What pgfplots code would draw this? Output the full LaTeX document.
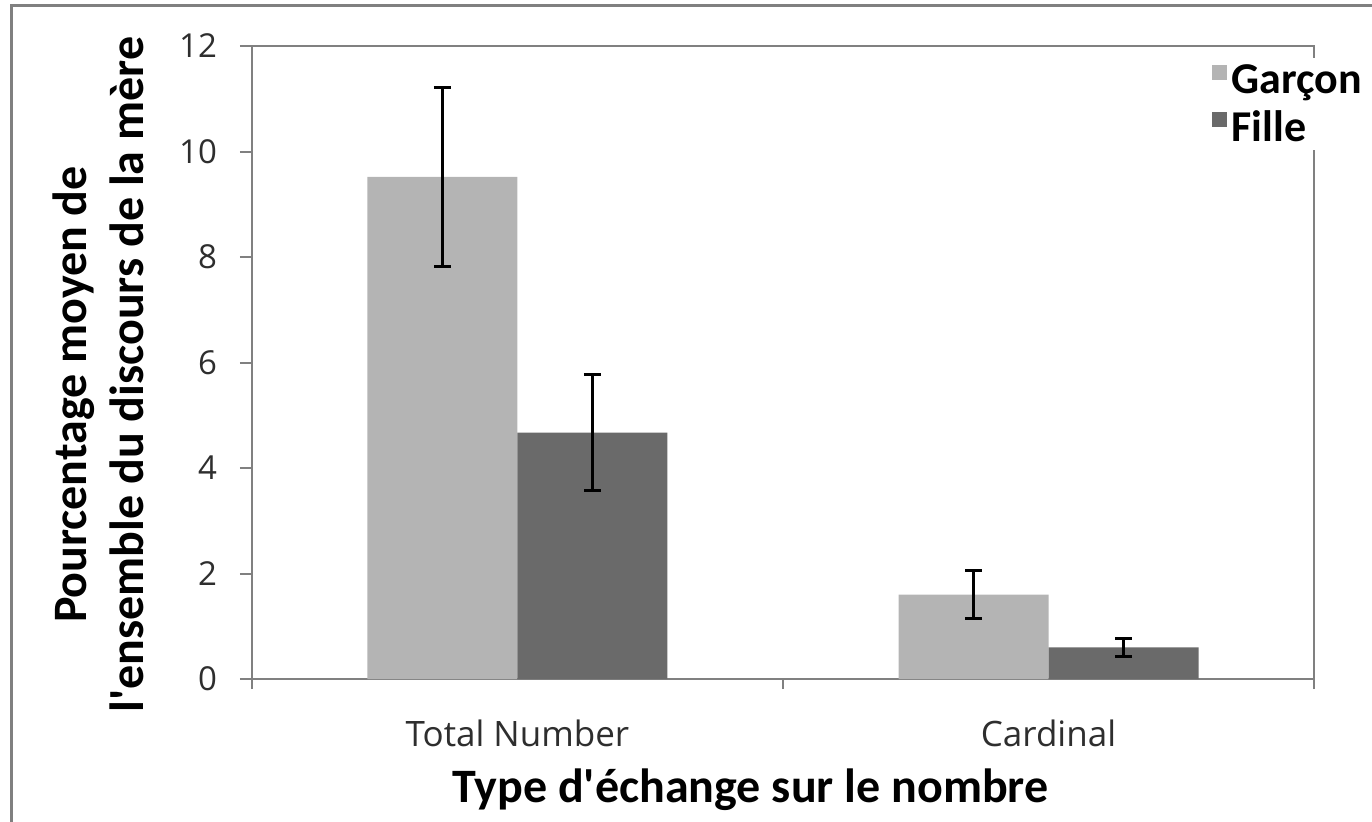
\documentclass[border=0pt]{standalone}
\usepackage{fontspec}
\setmainfont{Open Sans}
\newfontfamily\carlito{Carlito}
\usepackage{pgfplots}
\pgfplotsset{compat=1.18}
\definecolor{garcon}{HTML}{B4B4B4}
\definecolor{fille}{HTML}{6A6A6A}
\definecolor{axisgray}{HTML}{808080}
\definecolor{ticktext}{HTML}{2E2E2E}
\pgfplotstableread{
x y e
0 9.52 1.70
1 1.60 0.45
}\garconTab
\pgfplotstableread{
x y e
0 4.67 1.10
1 0.60 0.17
}\filleTab
\begin{document}
\begin{tikzpicture}
\useasboundingbox (-126pt,-71pt) rectangle (560pt,339.5pt);
\draw[axisgray, line width=1.5pt] (-120pt,-80pt) -- (-120pt,337pt) -- (570pt,337pt);
\begin{axis}[
  scale only axis, width=531pt, height=316.5pt,
  xmin=-0.5, xmax=1.5, ymin=0, ymax=12,
  ybar=0pt, bar width=75pt,
  xtick={0,1}, xticklabels={Total Number, Cardinal},
  minor xtick={-0.5,0.5,1.5},
  ytick={0,2,...,12},
  tick align=outside, xtick pos=left, ytick pos=left,
  major tick length=6pt, minor tick length=5pt,
  major x tick style={draw=none},
  minor x tick style={axisgray, line width=1pt},
  major y tick style={axisgray, line width=1pt},
  axis line style={axisgray, line width=1pt},
  /pgf/number format/assume math mode=true,
  y tick label style={font=\fontsize{16.5}{20}\selectfont, text=ticktext, xshift=-8pt},
  x tick label style={font=\fontsize{17.5}{21}\selectfont, text=ticktext, yshift=-11pt},
  xlabel={Type d'échange sur le nombre},
  xlabel style={at={(axis description cs:0.4694,-0.1943)}, anchor=base, font=\carlito\bfseries\fontsize{24}{29}\selectfont},
  ylabel={Pourcentage moyen de\hspace*{20pt}\\l'ensemble du discours de la mère},
  ylabel style={at={(axis description cs:-0.1445,0.481)}, anchor=center, align=center, font=\carlito\bfseries\fontsize{24}{28.5}\selectfont},
  error bars/y dir=both, error bars/y explicit,
  error bars/error bar style={line width=1.6pt, black},
  error bars/error mark options={rotate=90, mark size=4.25pt, line width=1.6pt, black},
  legend image code/.code={\fill[#1] (0pt,0pt) rectangle (7.5pt,7.5pt);},
  legend style={at={(axis description cs:0.8927,0.981)}, anchor=north west, draw=none, fill=white,
    font=\carlito\bfseries\fontsize{22}{26}\selectfont, inner xsep=6pt, inner ysep=1pt,
    row sep=3pt, legend cell align=left},
]
\addplot[fill=garcon, draw=none] table[x=x, y=y, y error=e] {\garconTab};
\addlegendentry{Garçon}
\addplot[fill=fille, draw=none] table[x=x, y=y, y error=e] {\filleTab};
\addlegendentry{Fille}
\end{axis}
\end{tikzpicture}
\end{document}
